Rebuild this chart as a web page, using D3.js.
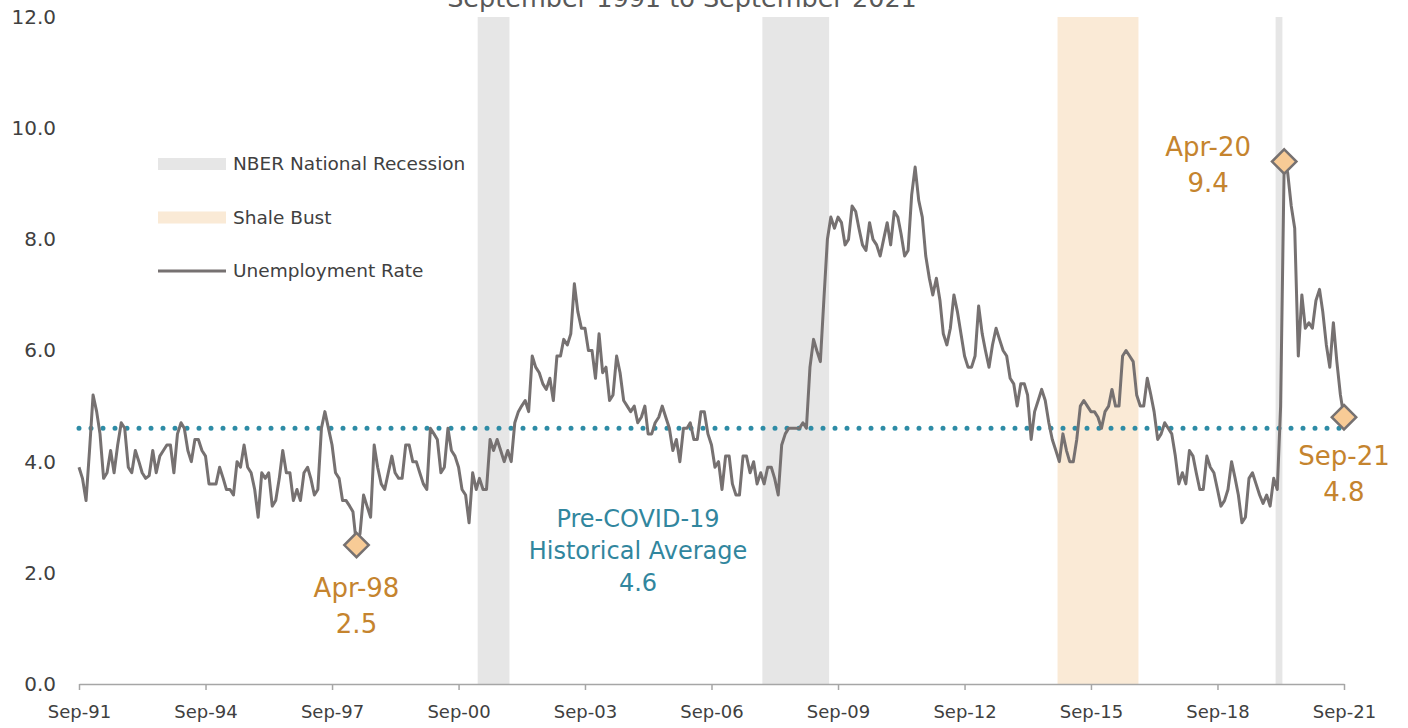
<!DOCTYPE html>
<html>
<head>
<meta charset="utf-8">
<script src="https://cdn.jsdelivr.net/npm/d3@7"></script>
<style>
  body { margin: 0; background: #fff; }
  svg text { font-family: "DejaVu Sans", "Noto Sans", sans-serif; }
</style>
</head>
<body>
<div id="chart"></div>
<script>
var width = 1408, height = 728;

// monthly rate, Sep-91 .. Sep-21
var startMonth = "1991-09";
var rates = [
  3.9,3.7,3.3,4.2,5.2,4.9,4.5,3.7,3.8,4.2,3.8,4.3,4.7,4.6,3.9,3.8,4.2,4.0,3.8,3.7,
  3.75,4.2,3.8,4.1,4.2,4.3,4.3,3.8,4.5,4.7,4.6,4.2,4.0,4.4,4.4,4.2,4.1,3.6,3.6,3.6,
  3.9,3.7,3.5,3.5,3.4,4.0,3.9,4.3,3.9,3.8,3.5,3.0,3.8,3.7,3.8,3.2,3.3,3.7,4.2,3.8,
  3.8,3.3,3.5,3.3,3.8,3.9,3.7,3.4,3.5,4.6,4.9,4.6,4.3,3.8,3.7,3.3,3.3,3.2,3.1,2.5,
  2.7,3.4,3.2,3.0,4.3,3.9,3.6,3.5,3.8,4.1,3.8,3.7,3.7,4.3,4.3,4.0,4.0,3.8,3.6,3.5,
  4.6,4.5,4.4,3.8,3.9,4.6,4.2,4.1,3.9,3.5,3.4,2.9,3.8,3.5,3.7,3.5,3.5,4.4,4.2,4.4,
  4.2,4.0,4.2,4.0,4.7,4.9,5.0,5.1,4.9,5.9,5.7,5.6,5.4,5.3,5.5,5.1,5.9,5.9,6.2,6.1,
  6.3,7.2,6.7,6.4,6.4,6.0,6.0,5.5,6.3,5.6,5.7,5.1,5.2,5.9,5.6,5.1,5.0,4.9,5.0,4.7,
  4.8,5.0,4.5,4.5,4.7,4.8,5.0,4.8,4.6,4.2,4.4,4.0,4.6,4.6,4.7,4.4,4.4,4.9,4.9,4.5,
  4.3,3.9,4.0,3.5,4.1,4.1,3.6,3.4,3.4,4.1,4.1,3.8,4.0,3.6,3.8,3.6,3.9,3.9,3.7,3.4,
  4.3,4.5,4.6,4.6,4.6,4.6,4.7,4.6,5.7,6.2,6.0,5.8,6.9,8.0,8.4,8.2,8.4,8.3,7.9,8.0,
  8.6,8.5,8.2,7.9,7.8,8.3,8.0,7.9,7.7,8.0,8.3,7.9,8.5,8.4,8.1,7.7,7.8,8.8,9.3,8.7,
  8.4,7.7,7.3,7.0,7.3,6.9,6.3,6.1,6.4,7.0,6.7,6.3,5.9,5.7,5.7,5.9,6.8,6.3,6.0,5.7,
  6.1,6.4,6.2,6.0,5.9,5.5,5.4,5.0,5.4,5.4,5.2,4.4,4.9,5.1,5.3,5.1,4.7,4.4,4.2,4.0,
  4.5,4.2,4.0,4.0,4.4,5.0,5.1,5.0,4.9,4.9,4.8,4.6,4.9,5.0,5.3,5.0,5.0,5.9,6.0,5.9,
  5.8,5.2,5.0,5.0,5.5,5.2,4.9,4.4,4.5,4.7,4.6,4.5,4.1,3.6,3.8,3.6,4.2,4.1,3.8,3.5,
  3.5,4.1,3.9,3.8,3.5,3.2,3.3,3.5,4.0,3.7,3.4,2.9,3.0,3.7,3.8,3.6,3.4,3.25,3.4,3.2,
  3.7,3.5,5.0,9.4,9.2,8.6,8.2,5.9,7.0,6.4,6.5,6.4,6.9,7.1,6.7,6.1,5.7,6.5,5.8,5.2,
  4.8
];

var avgRate = 4.6;
var yTicks = [0, 2, 4, 6, 8, 10, 12];
var xTickLabels = ["Sep-91","Sep-94","Sep-97","Sep-00","Sep-03","Sep-06","Sep-09","Sep-12","Sep-15","Sep-18","Sep-21"];
var recessions = [["2001-03","2001-11"], ["2007-12","2009-06"], ["2020-02","2020-03"]];
var shaleBust = [["2014-12","2016-10"]];
var callouts = [
  { month: "1998-04", value: 2.5, label: "Apr-98" },
  { month: "2020-04", value: 9.4, label: "Apr-20" },
  { month: "2021-09", value: 4.8, label: "Sep-21" }
];
var legendItems = ["NBER National Recession", "Shale Bust", "Unemployment Rate"];

var parseMonth = d3.timeParse("%Y-%m");
var parseLabel = d3.timeParse("%b-%y");
var start = parseMonth(startMonth);
var series = rates.map(function(v, i) { return { date: d3.timeMonth.offset(start, i), value: v }; });

var svg = d3.select("#chart").append("svg")
  .attr("width", width)
  .attr("height", height);

var x = d3.scaleTime()
  .domain([start, series[series.length - 1].date])
  .range([79, 1344]);
var y = d3.scaleLinear().domain([0, 12]).range([684, 17]);

function halfLeft(d) { return x(d) - (x(d3.timeMonth.offset(d, 1)) - x(d)) / 2; }
function halfRight(d) { return x(d) + (x(d3.timeMonth.offset(d, 1)) - x(d)) / 2; }

// title (runs off the top of the frame, as in the source)
svg.append("text")
  .attr("x", 682).attr("y", 7)
  .attr("text-anchor", "middle")
  .style("font-size", "25.5px")
  .style("fill", "#595959")
  .text("September 1991 to September 2021");

// shaded periods
svg.selectAll(".recession")
  .data(recessions)
  .enter().append("rect")
  .attr("class", "recession")
  .attr("x", function(d) { return halfLeft(parseMonth(d[0])); })
  .attr("width", function(d) { return halfRight(parseMonth(d[1])) - halfLeft(parseMonth(d[0])); })
  .attr("y", y(12))
  .attr("height", y(0) - y(12))
  .style("fill", "#e6e6e6");

svg.selectAll(".shale")
  .data(shaleBust)
  .enter().append("rect")
  .attr("class", "shale")
  .attr("x", function(d) { return halfLeft(parseMonth(d[0])); })
  .attr("width", function(d) { return halfRight(parseMonth(d[1])) - halfLeft(parseMonth(d[0])); })
  .attr("y", y(12))
  .attr("height", y(0) - y(12))
  .style("fill", "#faead6");

// y axis labels only
svg.append("g")
  .attr("class", "y axis")
  .attr("transform", "translate(56,0)")
  .call(d3.axisLeft(y).tickValues(yTicks).tickFormat(d3.format(".1f")).tickSize(0).tickPadding(0))
  .call(function(g) { g.select(".domain").remove(); })
  .selectAll("text")
  .style("font-size", "20px")
  .style("fill", "#404040");

// x axis
var xAxis = svg.append("g")
  .attr("class", "x axis")
  .attr("transform", "translate(0," + y(0) + ")")
  .call(d3.axisBottom(x)
    .tickValues(xTickLabels.map(parseLabel))
    .tickFormat(d3.timeFormat("%b-%y"))
    .tickSize(6).tickSizeOuter(0).tickPadding(15));
xAxis.select(".domain").style("stroke", "#a6a6a6").style("stroke-width", 1.5);
xAxis.selectAll("line").style("stroke", "#a6a6a6").style("stroke-width", 1.5);
xAxis.selectAll("text").style("font-size", "18px").style("fill", "#404040");

// historical average
svg.append("line")
  .attr("x1", x(start)).attr("x2", x(series[series.length - 1].date))
  .attr("y1", y(avgRate)).attr("y2", y(avgRate))
  .style("stroke", "#2e8ca6")
  .style("stroke-width", 5)
  .style("stroke-linecap", "round")
  .style("stroke-dasharray", "0,12");

// unemployment line
var line = d3.line()
  .x(function(d) { return x(d.date); })
  .y(function(d) { return y(d.value); });

svg.append("path")
  .datum(series)
  .attr("d", line)
  .style("fill", "none")
  .style("stroke", "#767171")
  .style("stroke-width", 3)
  .style("stroke-linejoin", "round");

// callout markers
svg.selectAll(".marker")
  .data(callouts)
  .enter().append("path")
  .attr("class", "marker")
  .attr("d", d3.symbol().type(d3.symbolDiamond2).size(380))
  .attr("transform", function(d) { return "translate(" + x(parseMonth(d.month)) + "," + y(d.value) + ")"; })
  .style("fill", "#f8cb96")
  .style("stroke", "#767171")
  .style("stroke-width", 2.5);

var orange = "#c5842e";
var calloutPos = [
  { dx: 0, dy: 52 },
  { dx: -76, dy: -6 },
  { dx: 0, dy: 48 }
];
callouts.forEach(function(d, i) {
  var cx = x(parseMonth(d.month)) + calloutPos[i].dx;
  var cy = y(d.value) + calloutPos[i].dy;
  var t = svg.append("text")
    .attr("text-anchor", "middle")
    .style("font-size", "26px")
    .style("fill", orange);
  t.append("tspan").attr("x", cx).attr("y", cy).text(d.label);
  t.append("tspan").attr("x", cx).attr("y", cy + 36).text(d3.format(".1f")(d.value));
});

// average annotation
var avgText = svg.append("text")
  .attr("text-anchor", "middle")
  .style("font-size", "24px")
  .style("fill", "#31869e");
["Pre-COVID-19", "Historical Average", d3.format(".1f")(avgRate)].forEach(function(s, i) {
  avgText.append("tspan").attr("x", 638).attr("y", 527 + i * 32).text(s);
});

// legend
var legend = svg.append("g").attr("transform", "translate(158,164)");
legendItems.forEach(function(name, i) {
  var g = legend.append("g").attr("transform", "translate(0," + (i * 53.5) + ")");
  if (i < 2) {
    g.append("rect").attr("x", 0).attr("y", -6).attr("width", 68).attr("height", 12)
      .style("fill", i === 0 ? "#e6e6e6" : "#faead6");
  } else {
    g.append("line").attr("x1", 0).attr("x2", 68).attr("y1", 0).attr("y2", 0)
      .style("stroke", "#767171").style("stroke-width", 3);
  }
  g.append("text").attr("x", 75).attr("y", 6)
    .style("font-size", "18.5px").style("fill", "#404040").text(name);
});
</script>
</body>
</html>
